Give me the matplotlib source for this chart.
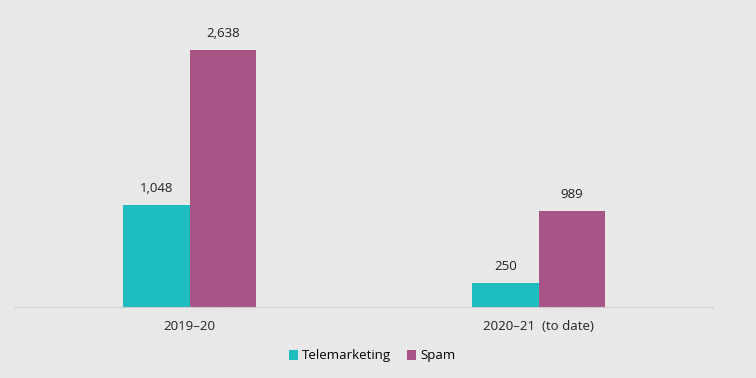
import matplotlib.pyplot as plt
import numpy as np

categories = ['2019–20', '2020–21  (to date)']
telemarketing = [1048, 250]
spam = [2638, 989]

bg = '#e8e8e8'
teal = '#1ebdbf'
purple = '#a75587'

plt.rcParams['font.family'] = ['Open Sans', 'DejaVu Sans']

fig = plt.figure(figsize=(7.56, 3.78), dpi=100, facecolor=bg)
ax = fig.add_axes([15/756, 1 - 307/378, 698/756, 287/378], facecolor=bg)

x = np.arange(len(categories))
w = 0.19
b1 = ax.bar(x - w/2, telemarketing, w, color=teal, label='Telemarketing')
b2 = ax.bar(x + w/2, spam, w, color=purple, label='Spam')

for bars in (b1, b2):
    for rect in bars:
        ax.annotate(f'{int(rect.get_height()):,}',
                    (rect.get_x() + rect.get_width()/2, rect.get_height()),
                    xytext=(0, 7), textcoords='offset points',
                    ha='center', va='bottom', fontsize=9.5, color='#222222')

ax.set_xlim(-0.5, 1.5)
ax.set_ylim(0, 2946)
ax.set_xticks(x)
ax.set_xticklabels(categories, fontsize=9.5, color='#222222')
ax.tick_params(axis='x', length=0, pad=9)
ax.set_yticks([])
for s in ['top', 'right', 'left']:
    ax.spines[s].set_visible(False)
ax.spines['bottom'].set_color('#c8c8c8')
ax.spines['bottom'].set_linestyle((0, (1.5, 1.5)))
ax.spines['bottom'].set_linewidth(0.8)

fig.legend(loc='center', bbox_to_anchor=(372/756, 1 - 356/378), ncol=2,
           frameon=False, fontsize=9.5, handlelength=0.7, handleheight=0.7,
           handletextpad=0.3, columnspacing=1.2)

plt.savefig('out.png', dpi=100, facecolor=bg)
